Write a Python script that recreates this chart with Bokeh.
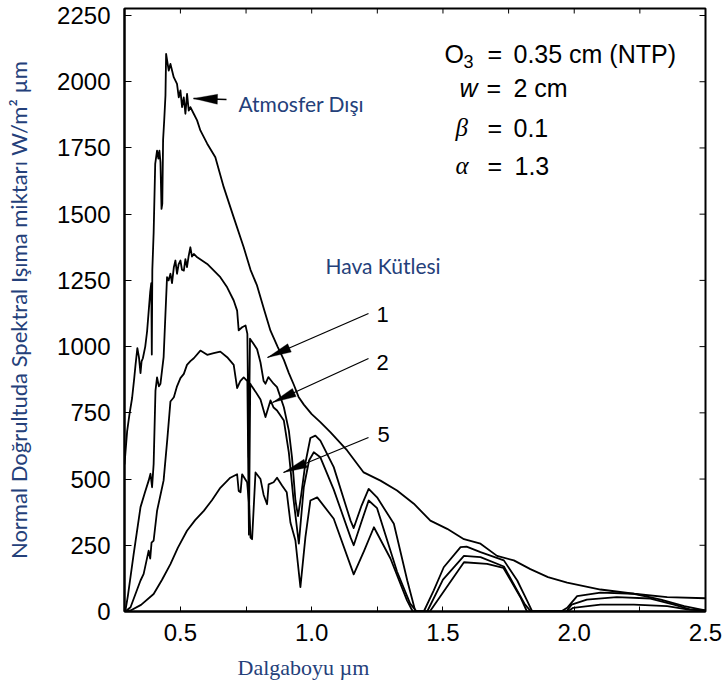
import math
from bokeh.plotting import figure
from bokeh.models import Range1d, FixedTicker, Label, Arrow, PolyAnnotation, Title
from bokeh.embed import file_html
from bokeh.resources import INLINE

# ---------------- data ----------------
x_ticks = [0.5, 1.0, 1.5, 2.0, 2.5]
x_minor = [0.75, 1.25, 1.75, 2.25]
x_tick_labels = ["0.5", "1.0", "1.5", "2.0", "2.5"]
y_ticks = [0, 250, 500, 750, 1000, 1250, 1500, 1750, 2000, 2250]

# Atmosfer Dışı (extraterrestrial)
et_x = [0.287, 0.297, 0.306, 0.316, 0.324, 0.329, 0.336, 0.342, 0.348, 0.352, 0.357, 0.366, 0.373, 0.379,
        0.385, 0.389, 0.391, 0.393, 0.398, 0.404, 0.411, 0.416, 0.42, 0.424, 0.428, 0.431, 0.434, 0.438,
        0.443, 0.4455, 0.4555, 0.462, 0.4745, 0.487, 0.4937, 0.5, 0.5063, 0.5127, 0.519, 0.5253, 0.5317,
        0.538, 0.5507, 0.5635, 0.576, 0.602, 0.633, 0.665, 0.703, 0.741, 0.767, 0.792, 0.82, 0.843, 0.87,
        0.894, 0.913, 0.932, 0.95, 0.97, 1.0, 1.033, 1.071, 1.135, 1.198, 1.262, 1.325, 1.389, 1.452,
        1.516, 1.58, 1.643, 1.706, 1.77, 1.833, 1.9, 1.973, 2.1, 2.227, 2.354, 2.5]
et_y = [555, 680, 745, 806, 880, 931, 994, 960, 900, 944, 956, 1000, 1057, 1132, 1207, 1240, 970, 1290,
        1430, 1690, 1740, 1710, 1740, 1696, 1520, 1540, 1780, 1850, 1947, 2105, 2042, 2067, 2017, 1992,
        1941, 1967, 1904, 1941, 1879, 1954, 1891, 1904, 1879, 1854, 1816, 1766, 1715, 1602, 1488, 1375,
        1290, 1230, 1135, 1060, 1000, 950, 900, 856, 810, 781, 745, 715, 677, 608, 525, 494, 457, 407,
        343, 312, 273, 256, 210, 193, 160, 130, 109, 83, 67, 54, 50]

# Hava kütlesi 1
am1_x = [0.29, 0.30, 0.322, 0.348, 0.365, 0.379, 0.386, 0.392, 0.398, 0.405, 0.411, 0.418, 0.424, 0.43,
         0.436, 0.443, 0.449, 0.455, 0.462, 0.468, 0.475, 0.481, 0.487, 0.493, 0.5, 0.506, 0.513, 0.519,
         0.525, 0.531, 0.538, 0.544, 0.551, 0.564, 0.602, 0.652, 0.678, 0.703, 0.716, 0.722, 0.735, 0.748,
         0.755, 0.760, 0.765, 0.779, 0.792, 0.805, 0.817, 0.824, 0.835, 0.843, 0.855, 0.868, 0.894, 0.913,
         0.925, 0.938, 0.948, 0.96, 0.976, 0.995, 1.014, 1.033, 1.084, 1.148, 1.16, 1.19, 1.217, 1.249,
         1.313, 1.364, 1.395, 1.427, 1.465, 1.503, 1.567, 1.59, 1.643, 1.732, 1.783, 1.82, 1.84, 1.95,
         1.973, 2.011, 2.1, 2.227, 2.33, 2.419, 2.48, 2.5]
am1_y = [0, 60, 218, 394, 450, 494, 520, 469, 557, 834, 884, 850, 860, 910, 960, 1124, 1262, 1250, 1275,
         1240, 1300, 1325, 1275, 1310, 1325, 1290, 1287, 1330, 1300, 1340, 1375, 1340, 1350, 1337, 1312,
         1262, 1224, 1174, 1136, 1061, 1073, 1080, 1048, 582, 1030, 1010, 990, 940, 870, 860, 885, 875,
         860, 847, 771, 683, 582, 420, 360, 440, 560, 655, 664, 645, 545, 343, 315, 400, 463, 431, 331,
         117, 0, 0, 80, 167, 243, 245, 224, 193, 117, 42, 0, 0, 14, 58, 71, 67, 45, 20, 8, 4]

# Hava kütlesi 2
am2_x = [0.29, 0.31, 0.348, 0.36, 0.379, 0.385, 0.39, 0.398, 0.411, 0.424, 0.436, 0.45, 0.462, 0.475,
         0.487, 0.5, 0.513, 0.525, 0.538, 0.551, 0.576, 0.602, 0.627, 0.652, 0.678, 0.703, 0.716, 0.728,
         0.741, 0.755, 0.761, 0.766, 0.772, 0.786, 0.805, 0.824, 0.843, 0.855, 0.868, 0.894, 0.913, 0.93,
         0.951, 0.97, 0.99, 1.008, 1.033, 1.084, 1.148, 1.16, 1.19, 1.217, 1.249, 1.325, 1.375, 1.40, 1.44,
         1.50, 1.58, 1.643, 1.732, 1.81, 1.835, 1.97, 1.99, 2.048, 2.162, 2.29, 2.38, 2.44, 2.5]
am2_y = [0, 16, 117, 142, 230, 200, 260, 268, 380, 440, 495, 650, 793, 809, 850, 881, 897, 931, 945, 956,
         985, 969, 975, 981, 960, 931, 843, 870, 884, 870, 290, 860, 850, 830, 800, 734, 797, 770, 759,
         721, 600, 430, 256, 470, 570, 601, 582, 460, 280, 250, 340, 419, 390, 151, 30, 0, 0, 120, 210,
         205, 170, 30, 0, 0, 26, 45, 54, 49, 26, 8, 3]

# Hava kütlesi 5
am5_x = [0.29, 0.31, 0.35, 0.398, 0.43, 0.462, 0.49, 0.525, 0.556, 0.589, 0.62, 0.652, 0.69, 0.716, 0.722,
         0.729, 0.735, 0.754, 0.762, 0.767, 0.773, 0.786, 0.805, 0.817, 0.83, 0.836, 0.855, 0.868, 0.887,
         0.905, 0.919, 0.938, 0.957, 0.976, 0.995, 1.021, 1.084, 1.16, 1.20, 1.237, 1.30, 1.363, 1.385,
         1.45, 1.52, 1.58, 1.668, 1.73, 1.795, 1.82, 1.975, 1.996, 2.1, 2.227, 2.354, 2.43, 2.5]
am5_y = [0, 4, 25, 66, 120, 179, 240, 305, 345, 380, 420, 467, 505, 518, 455, 450, 518, 488, 400, 279,
         273, 525, 500, 440, 405, 480, 488, 505, 476, 450, 336, 268, 92, 280, 419, 431, 350, 140, 230, 318,
         200, 42, 0, 0, 100, 186, 180, 165, 54, 0, 0, 14, 26, 26, 20, 8, 3]

# ---------------- layout ----------------
W, H = 724, 690
X0, X1 = 0.287, 2.5
PL, PR, PT, PB = 124, 705, 8, 611          # frame edges in picture pixels
Y1 = 2250 * (PB - PT) / (PB - 15)          # 2250 sits at y = 15


def dx(px):
    return X0 + (px - PL) * (X1 - X0) / (PR - PL)


def dy(py):
    return Y1 - (py - PT) * Y1 / (PB - PT)


p = figure(width=W, height=H, output_backend="svg", toolbar_location=None,
           x_range=Range1d(X0, X1), y_range=Range1d(0, Y1),
           min_border_left=PL, min_border_right=W - PR, min_border_top=PT,
           min_border_bottom=H - PB)
p.xgrid.visible = False
p.ygrid.visible = False
p.outline_line_color = "black"
p.outline_line_width = 2
p.background_fill_color = "white"
p.border_fill_color = "white"

NAVY = "#24407a"

xa = p.xaxis[0]
xa.ticker = FixedTicker(ticks=x_ticks, minor_ticks=x_minor)
xa.major_label_overrides = {t: s for t, s in zip(x_ticks, x_tick_labels)}
xa.major_tick_in = 5
xa.major_tick_out = 0
xa.minor_tick_in = 5
xa.minor_tick_out = 0
xa.axis_line_width = 2
xa.major_label_standoff = 12
xa.major_label_text_font = "Liberation Sans"
xa.major_label_text_font_size = "24px"
xa.major_label_text_color = "black"

ya = p.yaxis[0]
ya.ticker = FixedTicker(ticks=y_ticks)
ya.major_tick_in = 7
ya.major_tick_out = 0
ya.minor_tick_in = 0
ya.minor_tick_out = 0
ya.axis_line_width = 2
ya.major_label_standoff = 14
ya.major_label_text_font = "Liberation Sans"
ya.major_label_text_font_size = "24px"
ya.major_label_text_color = "black"
ya.axis_label = "Normal Doğrultuda Spektral Işıma miktarı W/m² µm"
ya.axis_label_standoff = 22
ya.axis_label_text_font = "Lato"
ya.axis_label_text_font_size = "22px"
ya.axis_label_text_font_style = "normal"
ya.axis_label_text_color = NAVY

# x title as a side title, so it can be offset to the left like the reference
p.add_layout(Title(text="Dalgaboyu µm", align="left", offset=237 - PL, standoff=18,
                   text_font="Liberation Serif", text_font_size="22px",
                   text_font_style="normal", text_color=NAVY), "below")

# ticks on the top and right frame
tpx = 5 * Y1 / (PB - PT)
all_x = x_ticks + x_minor
p.segment(x0=all_x, y0=[Y1] * len(all_x), x1=all_x, y1=[Y1 - tpx] * len(all_x),
          line_color="black", line_width=1)
rpx = 6 * (X1 - X0) / (PR - PL)
p.segment(x0=[X1] * len(y_ticks), y0=y_ticks, x1=[X1 - rpx] * len(y_ticks), y1=y_ticks,
          line_color="black", line_width=1)

# curves
for xs, ys in [(et_x, et_y), (am1_x, am1_y), (am2_x, am2_y), (am5_x, am5_y)]:
    p.line(xs, ys, line_color="black", line_width=1.8, line_join="round")


# ---------------- annotations ----------------
def tri(tip, tail, L, Wd):
    ux, uy = tail[0] - tip[0], tail[1] - tip[1]
    n = math.hypot(ux, uy)
    ux, uy = ux / n, uy / n
    bx, by = tip[0] + ux * L, tip[1] + uy * L
    qx, qy = -uy * Wd / 2, ux * Wd / 2
    pts = [tip, (bx + qx, by + qy), (bx - qx, by - qy)]
    return [dx(a) for a, b in pts], [dy(b) for a, b in pts]


arrows = [((193, 98), (226, 99), 24, 10),
          ((267, 357), (368, 313), 24, 9),
          ((272, 402), (368, 358), 24, 9),
          ((283, 472), (368, 437), 24, 9)]
for tip, tail, L, Wd in arrows:
    p.add_layout(Arrow(end=None, x_start=dx(tail[0]), y_start=dy(tail[1]),
                       x_end=dx(tip[0]), y_end=dy(tip[1]), line_color="black", line_width=1.3))
    xs, ys = tri(tip, tail, L, Wd)
    p.add_layout(PolyAnnotation(xs=xs, ys=ys, fill_color="black", fill_alpha=1.0,
                                line_color="black", line_width=1))


def lab(px, py, text, font="Liberation Sans", size="24px", color="black", align="left",
        style="normal"):
    p.add_layout(Label(x=dx(px), y=dy(py), text=text, text_font=font, text_font_size=size,
                       text_color=color, text_align=align, text_baseline="middle",
                       text_font_style=style))


lab(238, 103, "Atmosfer Dışı", font="Lato", size="21px", color=NAVY)
lab(325, 265, "Hava Kütlesi", font="Lato", size="21px", color=NAVY)
lab(382, 314, "1", size="22px", align="center")
lab(382, 362, "2", size="22px", align="center")
lab(383, 434, "5", size="22px", align="center")

lab(444, 53, "O", size="25px")
lab(463, 61, "3", size="18px")
lab(487, 53, "=", size="25px")
lab(513, 53, "0.35 cm (NTP)", size="25px")
lab(459, 87, "w", size="25px", style="italic")
lab(486, 87, "=", size="25px")
lab(513, 87, "2 cm", size="25px")
lab(455, 127, "β", font="Liberation Serif", size="25px", style="italic")
lab(487, 127, "=", size="25px")
lab(513, 127, "0.1", size="25px")
lab(455, 165, "α", font="Liberation Serif", size="25px", style="italic")
lab(487, 165, "=", size="25px")
lab(514, 165, "1.3", size="25px")

open("out.html", "w").write(file_html(p, INLINE))
